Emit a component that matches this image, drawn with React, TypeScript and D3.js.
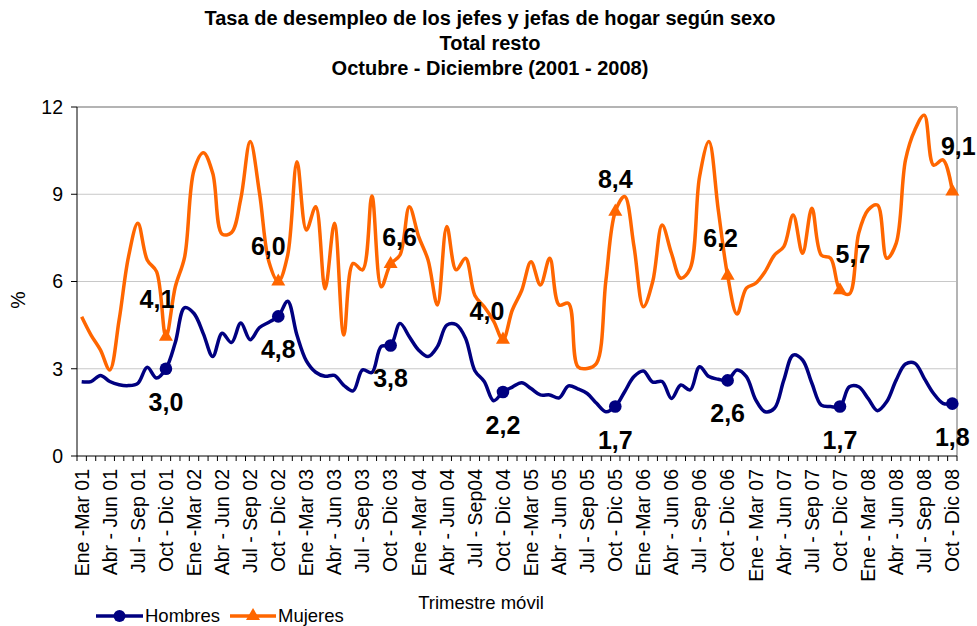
import React from 'react';
import * as d3 from 'd3';

// Trimestres moviles: Ene-Mar 01 ... Oct-Dic 08 (94 puntos)
const meses = ['Ene', 'Feb', 'Mar', 'Abr', 'May', 'Jun', 'Jul', 'Ago', 'Sep', 'Oct', 'Nov', 'Dic'];
const categories: string[] = d3.range(94).map(i => {
  const m = i % 12;
  const yy = String(1 + Math.floor(i / 12)).padStart(2, '0');
  return `${meses[m]}-${meses[(m + 2) % 12]} ${yy}`;
});

const tickLabels = [
  'Ene -Mar 01', 'Abr - Jun 01', 'Jul - Sep 01', 'Oct - Dic 01',
  'Ene -Mar 02', 'Abr - Jun 02', 'Jul - Sep 02', 'Oct - Dic 02',
  'Ene -Mar 03', 'Abr - Jun 03', 'Jul - Sep 03', 'Oct - Dic 03',
  'Ene -Mar 04', 'Abr - Jun 04', 'Jul - Sep04', 'Oct - Dic 04',
  'Ene -Mar 05', 'Abr - Jun 05', 'Jul - Sep 05', 'Oct - Dic 05',
  'Ene -Mar 06', 'Abr - Jun 06', 'Jul - Sep 06', 'Oct - Dic 06',
  'Ene - Mar 07', 'Abr - Jun 07', 'Jul - Sep 07', 'Oct - Dic 07',
  'Ene - Mar 08', 'Abr - Jun 08', 'Jul - Sep 08', 'Oct - Dic 08',
];

const hombres = [
  2.55, 2.56, 2.77, 2.56, 2.45, 2.42, 2.5, 3.05, 2.68, 3.0,
  3.9, 5.1, 4.9, 4.2, 3.42, 4.22, 3.9, 4.57, 4.0, 4.42,
  4.6, 4.8, 5.32, 4.15, 3.27, 2.88, 2.74, 2.77, 2.43, 2.24,
  2.96, 2.87, 3.77, 3.8, 4.56, 4.1, 3.64, 3.42, 3.76, 4.5,
  4.52, 4.05, 2.93, 2.56, 1.9, 2.2, 2.37, 2.52, 2.32, 2.1,
  2.1, 2.0, 2.41, 2.31, 2.15, 1.81, 1.52, 1.7, 2.21, 2.73,
  2.92, 2.54, 2.56, 1.98, 2.44, 2.27, 3.07, 2.73, 2.64, 2.6,
  2.96, 2.73, 1.93, 1.52, 1.64, 2.61, 3.47, 3.3, 2.5, 1.75,
  1.7, 1.7, 2.38, 2.38, 1.98, 1.56, 1.87, 2.61, 3.16, 3.19,
  2.67, 2.15, 1.81, 1.8,
];

const mujeres = [
  4.79, 4.16, 3.65, 2.96, 4.68, 6.85, 8.0, 6.74, 6.34, 4.1,
  5.82, 6.85, 9.83, 10.43, 9.72, 7.63, 7.68, 8.85, 10.81, 9.03,
  6.68, 6.0, 6.9, 10.12, 7.77, 8.57, 5.75, 8.0, 4.16, 6.62,
  6.4, 8.94, 5.82, 6.6, 6.91, 8.57, 7.54, 6.74, 5.19, 7.89,
  6.4, 6.8, 5.52, 5.13, 4.64, 4.0, 5.02, 5.69, 6.68, 5.88,
  6.8, 5.19, 5.25, 3.07, 3.01, 3.19, 6.05, 8.4, 8.92, 7.2,
  5.13, 6.0, 7.94, 6.97, 6.11, 6.45, 9.6, 10.81, 8.46, 6.2,
  4.88, 5.77, 5.94, 6.34, 6.91, 7.2, 8.29, 6.97, 8.52, 6.91,
  6.8, 5.7, 5.57, 7.66, 8.46, 8.63, 6.8, 7.31, 10.18, 11.21,
  11.72, 10.0, 10.18, 9.1,
];

const yTicks = [0, 3, 6, 9, 12];

// desplazamiento de las etiquetas de Mujeres respecto del marcador
const mujeresLabelOffsets: [number, number][] = [
  [-9, -29], [-10, -27], [9, -18], [-16, -20], [0, -24], [-7, -29], [13, -27], [6, -36],
];

const W = 977;
const H = 626;
const left = 77, right = 957, top = 107, bottom = 456;
const font = '"Liberation Sans", Arial, sans-serif';
const navy = '#000080';
const orange = '#FF6600';

const App: React.FC = () => {
  const x = d3.scaleBand<number>().domain(d3.range(categories.length)).range([left, right]);
  const cx = (i: number) => (x(i) as number) + x.bandwidth() / 2;
  const y = d3.scaleLinear().domain([0, 12]).range([bottom, top]);

  const line = d3.line<number>()
    .x((_, i) => cx(i))
    .y(d => y(d))
    .curve(d3.curveCatmullRom.alpha(0.5));

  const marked = categories.map((c, i) => (c.startsWith('Oct') ? i : -1)).filter(i => i >= 0);
  const tri = d3.symbol(d3.symbolTriangle, 85)() as string;
  const fmt = (v: number) => v.toFixed(1).replace('.', ',');

  const boundaries = d3.range(categories.length + 1).map(i => left + i * x.bandwidth());

  return (
    <svg width={W} height={H} style={{ position: 'absolute', left: 0, top: 0, fontFamily: font }}>
      <rect width={W} height={H} fill="#fff" />

      {/* titulo */}
      <g fontWeight="bold" fontSize={20} textAnchor="middle">
        <text x={490} y={25}>Tasa de desempleo de los jefes y jefas de hogar según sexo</text>
        <text x={490} y={50}>Total resto</text>
        <text x={490} y={75}>Octubre - Diciembre (2001 - 2008)</text>
      </g>

      {/* grilla */}
      {yTicks.filter(t => t > 0).map(t => (
        <line key={t} x1={left} x2={right} y1={y(t)} y2={y(t)} stroke="#c8c8c8" strokeWidth={1} />
      ))}
      <line x1={left} x2={right} y1={top} y2={top} stroke="#b4b4b4" strokeWidth={2} />
      <line x1={right} x2={right} y1={top} y2={bottom} stroke="#b4b4b4" strokeWidth={2} />

      {/* eje Y */}
      <line x1={left} x2={left} y1={top} y2={bottom} stroke="#000" />
      {yTicks.map(t => (
        <g key={t}>
          <line x1={left - 6} x2={left} y1={y(t)} y2={y(t)} stroke="#000" />
          <text x={63} y={y(t)} dy="0.35em" textAnchor="end" fontSize={19.5}>{t}</text>
        </g>
      ))}
      <text transform="translate(18,300) rotate(-90)" textAnchor="middle" dy="0.35em" fontSize={19.5}>%</text>

      {/* eje X */}
      <line x1={left} x2={right} y1={bottom} y2={bottom} stroke="#000" />
      {boundaries.map((b, i) => (
        <line key={i} x1={b} x2={b} y1={bottom} y2={bottom + 5} stroke="#000" />
      ))}
      {tickLabels.map((t, j) => (
        <text key={t} transform={`translate(${cx(j * 3)},${bottom + 13}) rotate(-90)`}
          textAnchor="end" dy="0.35em" fontSize={19.5}>{t}</text>
      ))}
      <text x={481} y={609} textAnchor="middle" fontSize={18.5}>Trimestre móvil</text>

      {/* series */}
      <path d={line(mujeres) as string} fill="none" stroke={orange} strokeWidth={3.5} strokeLinejoin="round" />
      <path d={line(hombres) as string} fill="none" stroke={navy} strokeWidth={3.5} strokeLinejoin="round" />

      {marked.map(i => (
        <circle key={'h' + i} cx={cx(i)} cy={y(hombres[i])} r={6.3} fill={navy} />
      ))}
      {marked.map(i => (
        <path key={'m' + i} d={tri} transform={`translate(${cx(i)},${y(mujeres[i])})`} fill={orange} />
      ))}

      {/* etiquetas de datos */}
      <g fontWeight="bold" fontSize={25} textAnchor="middle" fill="#000">
        {marked.map(i => (
          <text key={'hl' + i} x={cx(i)} y={y(hombres[i]) + 42}>{fmt(hombres[i])}</text>
        ))}
        {marked.map((i, k) => (
          <text key={'ml' + i} x={cx(i) + mujeresLabelOffsets[k][0]} y={y(mujeres[i]) + mujeresLabelOffsets[k][1]}>
            {fmt(mujeres[i])}
          </text>
        ))}
      </g>

      {/* leyenda */}
      <g fontSize={18.5}>
        <line x1={96} x2={143} y1={616} y2={616} stroke={navy} strokeWidth={3.5} />
        <circle cx={119.5} cy={616} r={6} fill={navy} />
        <text x={145} y={622}>Hombres</text>
        <line x1={230} x2={276} y1={616} y2={616} stroke={orange} strokeWidth={3.5} />
        <path d={tri} transform="translate(253,616)" fill={orange} />
        <text x={278} y={622}>Mujeres</text>
      </g>
    </svg>
  );
};

export default App;
